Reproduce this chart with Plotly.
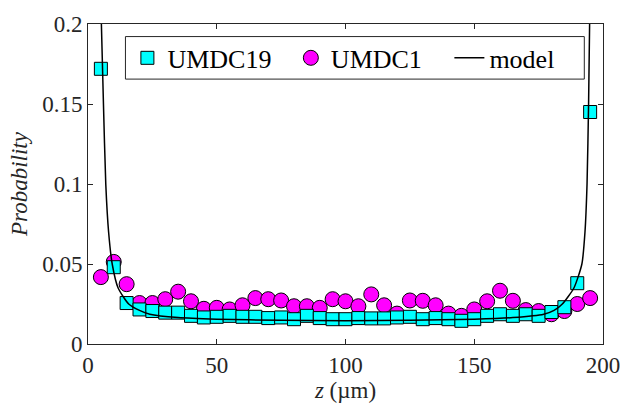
import plotly.graph_objects as go

z_pos = [5, 10, 15, 20, 25, 30, 35, 40, 45, 50, 55, 60, 65, 70, 75, 80, 85, 90, 95, 100,
         105, 110, 115, 120, 125, 130, 135, 140, 145, 150, 155, 160, 165, 170, 175, 180, 185, 190, 195]

umdc19 = [0.172, 0.048, 0.0256, 0.0216, 0.0206, 0.0196, 0.0196, 0.0176, 0.0166, 0.017,
          0.0176, 0.017, 0.017, 0.0162, 0.0166, 0.0155, 0.0176, 0.0162, 0.0155, 0.0155,
          0.0162, 0.016, 0.016, 0.0166, 0.017, 0.0155, 0.0162, 0.0155, 0.0145, 0.0155,
          0.0176, 0.0186, 0.0176, 0.0186, 0.0176, 0.020, 0.023, 0.038, 0.145]

umdc1 = [0.0418, 0.0513, 0.0374, 0.0256, 0.0256, 0.028, 0.0327, 0.0267, 0.022, 0.0226,
         0.0216, 0.0242, 0.0287, 0.028, 0.0272, 0.0236, 0.0236, 0.0226, 0.028, 0.0267,
         0.0236, 0.031, 0.0242, 0.019, 0.0272, 0.027, 0.0242, 0.019, 0.0176, 0.0216,
         0.0267, 0.0333, 0.027, 0.0212, 0.0206, 0.0186, 0.0206, 0.025, 0.0287]

model_z = [5.2, 6.0, 6.9, 8.0, 9.4, 11.7, 15.8, 20, 24, 35, 50, 75, 100,
           125, 150, 165, 177, 181, 184.2, 188.7, 191.8, 193.0, 193.8, 194.4, 194.8]
model_p = [0.2, 0.15, 0.1, 0.07, 0.05, 0.035, 0.025, 0.021, 0.0186, 0.0165, 0.0155, 0.0148, 0.0146,
           0.0148, 0.0155, 0.0165, 0.0186, 0.021, 0.025, 0.035, 0.05, 0.07, 0.1, 0.15, 0.2]

x_ticks = [0, 50, 100, 150, 200]
y_ticks = [0, 0.05, 0.1, 0.15, 0.2]
y_ticklabels = ["0", "0.05", "0.1", "0.15", "0.2"]

FONT = "Liberation Serif"
AX = "#262626"
FS = 23
LFS = 26

fig = go.Figure()
fig.add_trace(go.Scatter(
    x=z_pos, y=umdc1, mode="markers", name="UMDC1", legend="legend2", showlegend=True,
    marker=dict(symbol="circle", size=15, color="#FF00FF", line=dict(color="black", width=1)),
))
fig.add_trace(go.Scatter(
    x=z_pos, y=umdc19, mode="markers", name="UMDC19", legend="legend", showlegend=True,
    marker=dict(symbol="square", size=13, color="#00FFFF", line=dict(color="black", width=1)),
))
fig.add_trace(go.Scatter(
    x=model_z, y=model_p, mode="lines", name="model", legend="legend3", showlegend=True,
    line=dict(color="black", width=1.5, shape="spline", smoothing=0.6),
))

# legend frame
fig.add_shape(type="rect", xref="paper", yref="paper", x0=0.0727, x1=0.9637, y0=0.8278, y1=0.9607,
              line=dict(color=AX, width=1), fillcolor="white", layer="above")

leg_common = dict(
    orientation="h", yanchor="middle", y=0.894, xanchor="left",
    bgcolor="rgba(0,0,0,0)", borderwidth=0,
    font=dict(family=FONT, size=LFS, color="black"),
)

fig.update_layout(
    width=632, height=412,
    margin=dict(l=88, r=21, t=13, b=68),
    plot_bgcolor="white", paper_bgcolor="white",
    showlegend=True,
    font=dict(family=FONT, size=FS, color=AX),
    xaxis=dict(
        range=[0, 200], tickvals=x_ticks, ticktext=[str(v) for v in x_ticks],
        showline=True, linecolor=AX, linewidth=1, mirror="ticks",
        ticks="inside", ticklen=5, tickcolor=AX, tickwidth=1,
        showgrid=False, zeroline=False,
        tickfont=dict(family=FONT, size=FS, color=AX),
        title=dict(text="<i>z</i> (µm)", font=dict(family=FONT, size=FS, color=AX), standoff=5),
    ),
    yaxis=dict(
        range=[0, 0.2], tickvals=y_ticks, ticktext=y_ticklabels,
        showline=True, linecolor=AX, linewidth=1, mirror="ticks",
        ticks="inside", ticklen=5, tickcolor=AX, tickwidth=1,
        showgrid=False, zeroline=False,
        tickfont=dict(family=FONT, size=FS, color=AX),
        title=dict(text="<i>Probability</i>", font=dict(family=FONT, size=FS, color=AX), standoff=8),
    ),
    legend=dict(x=0.0765, **leg_common),
    legend2=dict(x=0.3939, **leg_common),
    legend3=dict(x=0.7017, **leg_common),
)

fig.write_html("out.html")
